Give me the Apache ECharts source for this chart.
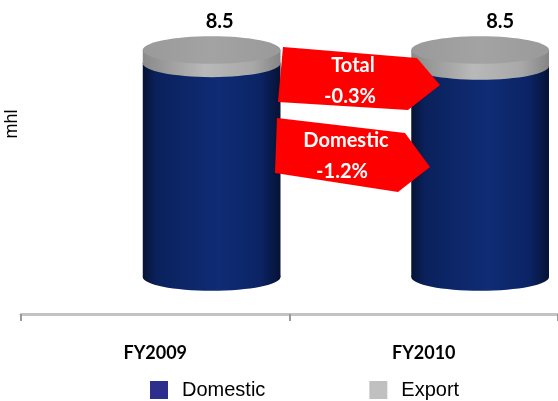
<!DOCTYPE html>
<html><head><meta charset="utf-8">
<script src="https://cdn.jsdelivr.net/npm/echarts@6.0.0/dist/echarts.min.js"></script>
<style>html,body{margin:0;padding:0;background:#fff}#c{width:558px;height:401px}</style>
</head><body><div id="c"></div>
<script>
// ---- data ----
const categories = ['FY2009', 'FY2010'];
const domestic = [8.0, 7.9];
const exportVals = [0.5, 0.6];
const seriesNames = ['Domestic', 'Export'];
const arrowTotal = ['Total', '-0.3%'];
const arrowDomestic = ['Domestic', '-1.2%'];
const axisName = 'mhl';

// ---- styling ----
const CYL_SHIFT = 0.21, CYL_HALF = 0.2565, RY_RATIO = 0.2;
const LABEL_DX = [8, 20];
const FONT_B = 'Lato, "Open Sans", sans-serif';
const FONT_A = '"Liberation Sans", Arial, sans-serif';

const navy = () => new echarts.graphic.LinearGradient(0, 0, 1, 0, [
  {offset: 0, color: '#061335'}, {offset: 0.1, color: '#0a215c'},
  {offset: 0.55, color: '#0f2c74'}, {offset: 0.85, color: '#0b2466'},
  {offset: 1, color: '#061234'}]);
const greySide = () => new echarts.graphic.LinearGradient(0, 0, 1, 0, [
  {offset: 0, color: '#8a8a8a'}, {offset: 0.45, color: '#b9b9b9'},
  {offset: 0.8, color: '#a8a8a8'}, {offset: 1, color: '#858585'}]);
const greyTop = () => new echarts.graphic.LinearGradient(0, 0, 1, 0, [
  {offset: 0, color: '#9a9a9a'}, {offset: 0.5, color: '#a3a3a3'}, {offset: 1, color: '#9a9a9a'}]);

const rows = categories.map((c, i) => [i, domestic[i], exportVals[i]]);

function geom(api, i, v0, v1) {
  const p0 = api.coord([i, v0]), p1 = api.coord([i, v1]);
  const band = api.size([1, 0])[0];
  const rx = band * CYL_HALF;
  return {cx: p0[0] + band * CYL_SHIFT, rx: rx, ry: rx * RY_RATIO, y0: p0[1], y1: p1[1]};
}

const txt = (x, y, s) => ({type: 'text', x: x, y: y, z: 100, zlevel: 1,
  style: {text: s, fill: '#fff', font: 'bold 20px ' + FONT_B, align: 'center', verticalAlign: 'middle'}});
const poly = (pts) => ({type: 'polygon', z: 99, zlevel: 1, shape: {points: pts}, style: {fill: '#ff0000'}});

const chart = echarts.init(document.getElementById('c'), null, {renderer: 'canvas'});
chart.setOption({
  animation: false,
  backgroundColor: '#fff',
  grid: {left: 21, width: 542, top: 50, bottom: 124, containLabel: false},
  xAxis: {
    type: 'category', data: categories, offset: 37,
    axisLine: {onZero: false, lineStyle: {color: '#c3c3c3', width: 3}},
    axisTick: {show: true, length: 7, lineStyle: {color: '#9a9a9a', width: 2}},
    axisLabel: {margin: 30, fontSize: 18, fontWeight: 'bold', color: '#000', fontFamily: FONT_B}
  },
  yAxis: {type: 'value', min: 0, max: 8.5, show: false},
  legend: {
    left: 145, top: 375, itemWidth: 18, itemHeight: 18, itemGap: 104, icon: 'rect',
    data: seriesNames,
    textStyle: {fontSize: 20, color: '#000', fontFamily: FONT_A, padding: [0, 0, 0, 9]}
  },
  series: [
    {
      type: 'custom', name: seriesNames[0], data: rows,
      itemStyle: {color: '#2E2E8C'},
      renderItem: function (params, api) {
        const i = api.value(0);
        const g = geom(api, i, 0, api.value(1));
        return {type: 'group', children: [
          {type: 'ellipse', shape: {cx: g.cx, cy: g.y0, rx: g.rx, ry: g.ry}, style: {fill: navy()}},
          {type: 'rect', shape: {x: g.cx - g.rx, y: g.y1, width: 2 * g.rx, height: g.y0 - g.y1}, style: {fill: navy()}}
        ]};
      }
    },
    {
      type: 'custom', name: seriesNames[1], data: rows,
      itemStyle: {color: '#C0C0C0'},
      renderItem: function (params, api) {
        const i = api.value(0), d = api.value(1), e = api.value(2);
        const g = geom(api, i, d, d + e);
        const total = (d + e).toFixed(1);
        return {type: 'group', children: [
          {type: 'ellipse', shape: {cx: g.cx, cy: g.y0, rx: g.rx, ry: g.ry}, style: {fill: greySide()}},
          {type: 'rect', shape: {x: g.cx - g.rx, y: g.y1, width: 2 * g.rx, height: g.y0 - g.y1}, style: {fill: greySide()}},
          {type: 'ellipse', shape: {cx: g.cx, cy: g.y1, rx: g.rx, ry: g.ry}, style: {fill: greyTop()}},
          {type: 'text', x: g.cx + LABEL_DX[i], y: g.y1 - g.ry - 15,
            style: {text: total, fill: '#000', font: 'bold 20px ' + FONT_B, align: 'center', verticalAlign: 'middle'}}
        ]};
      }
    }
  ],
  graphic: [
    {type: 'text', x: 12.5, y: 124, rotation: Math.PI / 2,
      style: {text: axisName, fill: '#000', font: '18px ' + FONT_A, align: 'center', verticalAlign: 'middle'}},
    poly([[283, 47], [417, 58], [440, 85], [408, 110], [278, 102]]),
    poly([[277, 118], [405, 133], [430, 167], [398, 192], [275, 173]]),
    txt(353, 66, arrowTotal[0]),
    txt(350, 97, arrowTotal[1]),
    txt(346, 141, arrowDomestic[0]),
    txt(342, 172, arrowDomestic[1])
  ]
});
</script>
</body></html>
